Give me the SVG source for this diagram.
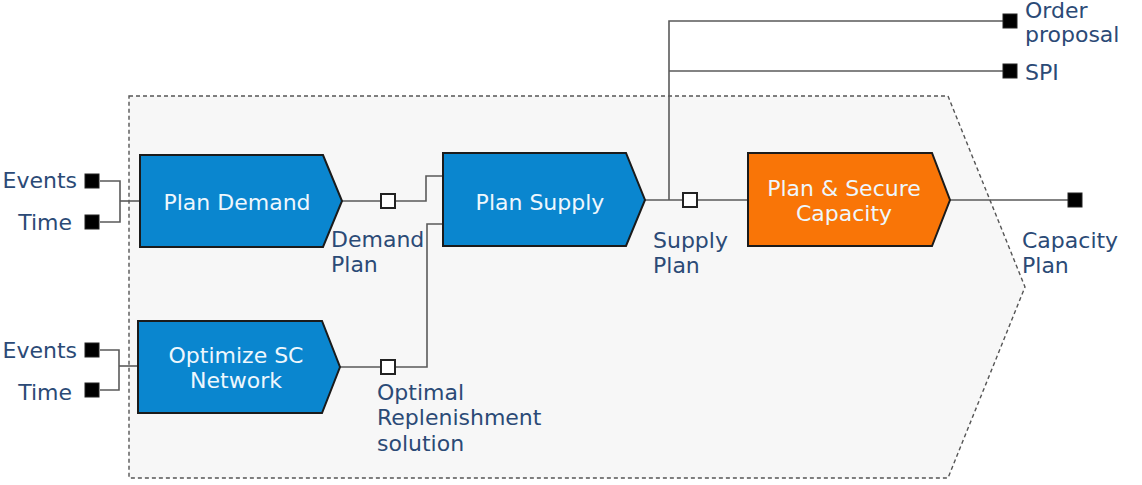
<svg xmlns="http://www.w3.org/2000/svg" width="1142" height="485" viewBox="0 0 1142 485">
<style>
.lbl{font-family:"DejaVu Sans",Verdana,sans-serif;font-size:22px;fill:#2b4a76}
.nt{font-family:"DejaVu Sans",Verdana,sans-serif;font-size:22px;fill:#eef7fd;text-anchor:middle}
.blue{fill:#0a86cf;stroke:#1b1b1b;stroke-width:2}
.orange{fill:#f97507;stroke:#1b1b1b;stroke-width:2}
.ln{fill:none;stroke:#5a5a5a;stroke-width:1.6}
.sq{fill:#000;stroke:#222;stroke-width:1}
.osq{fill:#fff;stroke:#222;stroke-width:2}
</style>
<g id="container">
<polygon points="129,96 948,96 1025,287 948,478 129,478" fill="#f7f7f7" stroke="#555" stroke-width="1.4" stroke-dasharray="4,3"/>
</g>
<g id="connectors">
<polyline class="ln" points="100,181 120,181 120,222 100,222"/>
<line class="ln" x1="120" y1="201" x2="140" y2="201"/>
<polyline class="ln" points="100,350 119,350 119,390 100,390"/>
<line class="ln" x1="119" y1="366" x2="138" y2="366"/>
<polyline class="ln" points="342,201 426,201 426,176 443,176"/>
<polyline class="ln" points="340,367 427,367 427,224 443,224"/>
<line class="ln" x1="645" y1="200" x2="748" y2="200"/>
<polyline class="ln" points="669,200 669,21 1010,21"/>
<line class="ln" x1="669" y1="71" x2="1010" y2="71"/>
<line class="ln" x1="950" y1="200" x2="1075" y2="200"/>
</g>
<g id="in-events-1"><rect class="sq" x="85" y="174" width="14" height="14"/><text class="lbl" x="77" y="188" text-anchor="end">Events</text></g>
<g id="in-time-1"><rect class="sq" x="85" y="215" width="14" height="14"/><text class="lbl" x="72" y="230" text-anchor="end">Time</text></g>
<g id="in-events-2"><rect class="sq" x="85" y="343" width="14" height="14"/><text class="lbl" x="77" y="358" text-anchor="end">Events</text></g>
<g id="in-time-2"><rect class="sq" x="85" y="383" width="14" height="14"/><text class="lbl" x="72" y="400" text-anchor="end">Time</text></g>
<g id="plan-demand">
<polygon class="blue" points="140,155 323,155 342,201 323,247 140,247"/>
<text class="nt" x="237" y="210">Plan Demand</text>
</g>
<g id="optimize-sc">
<polygon class="blue" points="138,321 322,321 340,367 322,413 138,413"/>
<text class="nt" x="236" y="363">Optimize SC</text>
<text class="nt" x="236" y="388">Network</text>
</g>
<g id="plan-supply">
<polygon class="blue" points="443,153 626,153 645,200 626,246 443,246"/>
<text class="nt" x="540" y="210">Plan Supply</text>
</g>
<g id="plan-secure">
<polygon class="orange" points="748,153 932,153 950,200 932,246 748,246"/>
<text class="nt" x="844" y="196">Plan &amp; Secure</text>
<text class="nt" x="844" y="221">Capacity</text>
</g>
<g id="demand-plan"><rect class="osq" x="381" y="194" width="14" height="14"/><text class="lbl" x="331" y="247">Demand</text><text class="lbl" x="331" y="272">Plan</text></g>
<g id="optimal-repl"><rect class="osq" x="381" y="360" width="14" height="14"/><text class="lbl" x="377" y="400">Optimal</text><text class="lbl" x="377" y="425">Replenishment</text><text class="lbl" x="377" y="451">solution</text></g>
<g id="supply-plan"><rect class="osq" x="683" y="193" width="14" height="14"/><text class="lbl" x="653" y="248">Supply</text><text class="lbl" x="653" y="273">Plan</text></g>
<g id="order-proposal"><rect class="sq" x="1003" y="14" width="14" height="14"/><text class="lbl" x="1025" y="18">Order</text><text class="lbl" x="1025" y="42">proposal</text></g>
<g id="spi"><rect class="sq" x="1003" y="64" width="14" height="14"/><text class="lbl" x="1025" y="80">SPI</text></g>
<g id="capacity-plan"><rect class="sq" x="1068" y="193" width="14" height="14"/><text class="lbl" x="1022" y="248">Capacity</text><text class="lbl" x="1022" y="273">Plan</text></g>
</svg>
